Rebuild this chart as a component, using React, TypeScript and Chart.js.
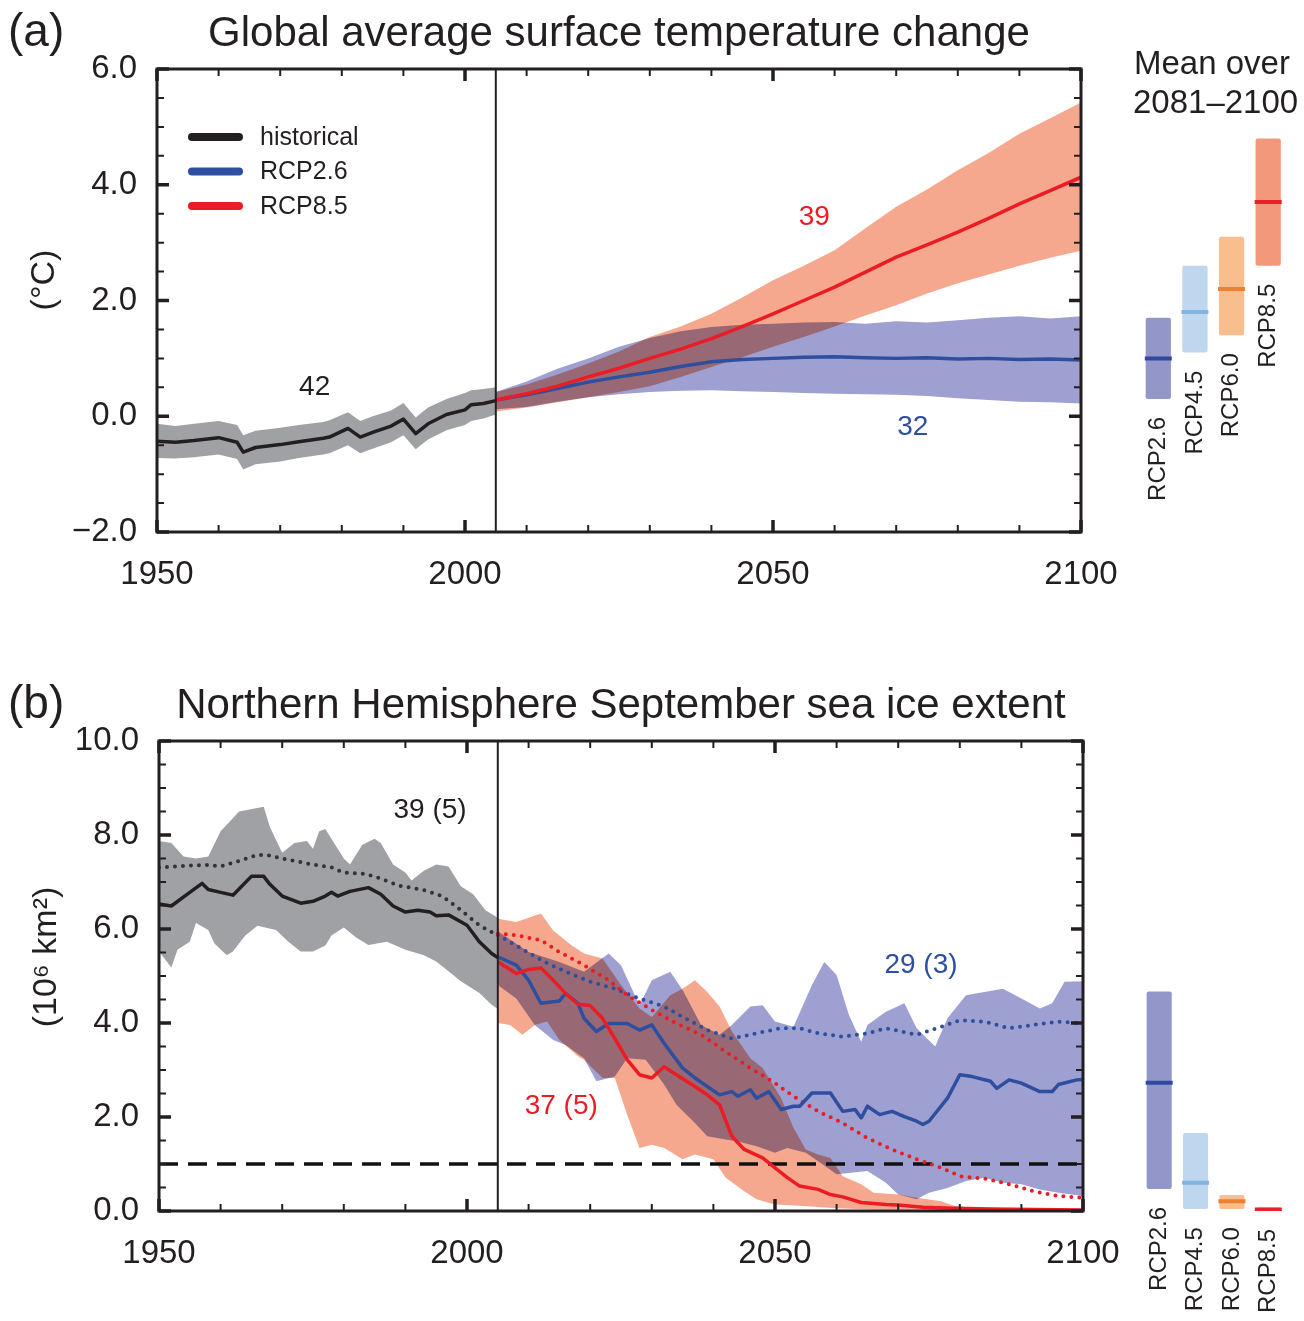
import React, { useEffect, useRef } from "react";
import { Chart, registerables } from "chart.js";

// ---------------- Panel (a): global mean surface temperature change ----------------
const histYearsA = [1950, 1953, 1956, 1960, 1963, 1964, 1966, 1970, 1973, 1977, 1978, 1981, 1983, 1985, 1988, 1990, 1992, 1994, 1997, 2000, 2001, 2003, 2005];
const histMeanA = [-0.43, -0.45, -0.42, -0.37, -0.45, -0.62, -0.54, -0.49, -0.44, -0.38, -0.36, -0.21, -0.36, -0.28, -0.17, -0.05, -0.30, -0.13, 0.03, 0.11, 0.20, 0.22, 0.27];
const histHighA = [-0.13, -0.17, -0.13, -0.08, -0.15, -0.33, -0.25, -0.20, -0.15, -0.10, -0.07, 0.07, -0.08, 0.0, 0.10, 0.23, -0.02, 0.15, 0.30, 0.40, 0.45, 0.47, 0.50];
const histLowA = [-0.72, -0.73, -0.71, -0.66, -0.74, -0.92, -0.83, -0.78, -0.72, -0.66, -0.64, -0.50, -0.64, -0.56, -0.45, -0.33, -0.57, -0.40, -0.24, -0.15, -0.08, -0.04, 0.03];

const projYearsA = [2005, 2010, 2015, 2020, 2025, 2030, 2035, 2040, 2045, 2050, 2055, 2060, 2065, 2070, 2075, 2080, 2085, 2090, 2095, 2100];
const rcp26MeanA = [0.28, 0.37, 0.48, 0.59, 0.68, 0.76, 0.86, 0.94, 0.98, 1.0, 1.02, 1.03, 1.01, 1.0, 1.01, 0.99, 1.0, 0.98, 0.99, 0.97];
const rcp26HighA = [0.42, 0.6, 0.82, 1.0, 1.2, 1.35, 1.47, 1.54, 1.58, 1.6, 1.62, 1.63, 1.6, 1.64, 1.62, 1.66, 1.7, 1.73, 1.69, 1.73];
const rcp26LowA = [0.12, 0.16, 0.25, 0.33, 0.38, 0.42, 0.44, 0.45, 0.43, 0.42, 0.4, 0.39, 0.38, 0.37, 0.35, 0.31, 0.28, 0.25, 0.24, 0.22];
const rcp85MeanA = [0.28, 0.39, 0.52, 0.68, 0.83, 1.0, 1.16, 1.34, 1.55, 1.77, 2.0, 2.23, 2.49, 2.75, 2.96, 3.18, 3.42, 3.67, 3.9, 4.13];
const rcp85HighA = [0.42, 0.55, 0.72, 0.91, 1.12, 1.37, 1.55, 1.77, 2.05, 2.35, 2.6, 2.87, 3.25, 3.62, 3.92, 4.25, 4.55, 4.88, 5.15, 5.42];
const rcp85LowA = [0.08, 0.15, 0.24, 0.33, 0.42, 0.52, 0.68, 0.85, 1.02, 1.2, 1.37, 1.55, 1.74, 1.92, 2.12, 2.3, 2.45, 2.6, 2.74, 2.86];

// ---------------- Panel (b): NH September sea ice extent ----------------
const histYearsB = [1950, 1952, 1955, 1957, 1958, 1960, 1962, 1965, 1967, 1968, 1970, 1973, 1975, 1977, 1978, 1979, 1981, 1984, 1986, 1988, 1990, 1992, 1994, 1995, 1997, 2000, 2002, 2004, 2005];
const histMeanB = [6.53, 6.49, 6.78, 6.97, 6.84, 6.78, 6.72, 7.12, 7.12, 6.95, 6.7, 6.55, 6.59, 6.7, 6.78, 6.7, 6.8, 6.88, 6.74, 6.49, 6.36, 6.4, 6.36, 6.28, 6.3, 6.08, 5.73, 5.48, 5.39];
const histDotYearsB = [1950, 1955, 1958, 1960, 1963, 1966, 1968, 1970, 1975, 1978, 1980, 1983, 1985, 1989, 1993, 1996, 1999, 2002, 2005];
const histDotB = [7.31, 7.35, 7.36, 7.33, 7.45, 7.58, 7.56, 7.5, 7.37, 7.31, 7.2, 7.18, 7.12, 6.92, 6.83, 6.7, 6.4, 6.08, 5.86];
const histHighYearsB = [1950, 1952, 1954, 1956, 1958, 1960, 1963, 1967, 1968, 1970, 1972, 1974, 1975, 1976, 1977, 1980, 1981, 1983, 1985, 1986, 1988, 1990, 1991, 1993, 1995, 1997, 1999, 2001, 2003, 2005];
const histHighB = [7.87, 7.83, 7.54, 7.5, 7.54, 8.08, 8.5, 8.6, 8.17, 7.62, 7.83, 7.87, 7.71, 8.08, 8.13, 7.5, 7.37, 7.79, 7.92, 7.83, 7.37, 7.2, 7.03, 7.24, 7.37, 7.33, 6.91, 6.74, 6.4, 6.24];
const histLowYearsB = [1950, 1952, 1953, 1955, 1956, 1958, 1959, 1961, 1962, 1964, 1966, 1969, 1971, 1973, 1975, 1977, 1978, 1980, 1982, 1984, 1987, 1990, 1993, 1995, 1997, 1999, 2002, 2004, 2005];
const histLowB = [5.52, 5.18, 5.56, 5.73, 6.13, 5.98, 5.69, 5.44, 5.52, 5.86, 6.07, 5.98, 5.73, 5.52, 5.52, 5.65, 5.86, 6.03, 5.82, 5.66, 5.73, 5.56, 5.44, 5.31, 5.1, 4.89, 4.64, 4.39, 4.3];

const rcp85MeanYearsB = [2005, 2007, 2008, 2010, 2012, 2014, 2016, 2018, 2020, 2022, 2024, 2026, 2028, 2030, 2032, 2034, 2037, 2039, 2041, 2043, 2045, 2048, 2050, 2052, 2054, 2057, 2059, 2061, 2064, 2068, 2070, 2074, 2079, 2085, 2092, 2100];
const rcp85MeanB = [5.3, 5.14, 5.05, 5.14, 5.17, 4.91, 4.63, 4.4, 4.37, 4.1, 3.67, 3.22, 2.9, 2.83, 3.07, 2.9, 2.65, 2.47, 2.26, 1.59, 1.31, 1.13, 0.92, 0.71, 0.53, 0.46, 0.35, 0.3, 0.18, 0.14, 0.13, 0.08, 0.06, 0.04, 0.03, 0.02];
const rcp85DotYearsB = [2005, 2008, 2012, 2015, 2019, 2023, 2026, 2030, 2034, 2038, 2042, 2046, 2050, 2053, 2057, 2061, 2065, 2069, 2073, 2077, 2080, 2084, 2088, 2092, 2096, 2100];
const rcp85DotB = [5.9, 5.87, 5.76, 5.51, 5.23, 4.91, 4.59, 4.28, 3.99, 3.75, 3.39, 3.04, 2.72, 2.44, 2.12, 1.87, 1.55, 1.31, 1.1, 0.92, 0.74, 0.69, 0.57, 0.42, 0.32, 0.28];
const rcp85HighYearsB = [2005, 2008, 2012, 2014, 2017, 2019, 2022, 2025, 2028, 2030, 2033, 2035, 2037, 2039, 2041, 2043, 2046, 2048, 2051, 2053, 2055, 2057, 2059, 2061, 2064, 2066, 2070, 2073, 2077, 2079, 2083, 2092, 2100];
const rcp85HighB = [6.22, 6.15, 6.33, 5.97, 5.65, 5.48, 5.37, 4.81, 4.31, 4.13, 4.59, 4.73, 4.91, 4.66, 4.35, 3.82, 3.25, 3.04, 2.4, 1.77, 1.31, 1.2, 1.13, 0.74, 0.57, 0.39, 0.35, 0.28, 0.21, 0.11, 0.06, 0.03, 0.01];
const rcp85LowYearsB = [2005, 2007, 2009, 2011, 2013, 2015, 2018, 2019, 2022, 2024, 2026, 2028, 2030, 2032, 2035, 2037, 2040, 2042, 2045, 2047, 2050, 2054, 2060, 2066, 2100];
const rcp85LowB = [4.0, 3.96, 3.75, 3.96, 4.03, 3.64, 3.29, 3.22, 2.83, 2.83, 2.05, 1.34, 1.41, 1.34, 1.1, 1.2, 1.1, 0.71, 0.42, 0.25, 0.14, 0.11, 0.06, 0.03, 0.0];

const rcp26MeanYearsB = [2005, 2008, 2010, 2012, 2015, 2016, 2018, 2019, 2021, 2023, 2026, 2028, 2030, 2032, 2035, 2037, 2041, 2043, 2044, 2046, 2047, 2049, 2051, 2053, 2054, 2056, 2059, 2061, 2063, 2064, 2065, 2067, 2069, 2071, 2073, 2074, 2075, 2078, 2080, 2082, 2085, 2086, 2088, 2090, 2093, 2095, 2096, 2099, 2100];
const rcp26MeanB = [5.41, 5.23, 4.91, 4.42, 4.47, 4.63, 4.42, 4.1, 3.82, 3.99, 3.99, 3.85, 3.96, 3.57, 3.04, 2.83, 2.47, 2.54, 2.44, 2.58, 2.4, 2.54, 2.16, 2.23, 2.23, 2.51, 2.51, 2.12, 2.16, 1.98, 2.23, 2.05, 2.12, 2.01, 1.91, 1.84, 1.91, 2.4, 2.9, 2.86, 2.76, 2.61, 2.79, 2.72, 2.54, 2.54, 2.69, 2.79, 2.8];
const rcp26DotYearsB = [2005, 2008, 2012, 2016, 2020, 2024, 2028, 2032, 2035, 2039, 2043, 2047, 2051, 2054, 2057, 2061, 2065, 2068, 2073, 2077, 2080, 2084, 2088, 2092, 2096, 2100];
const rcp26DotB = [5.87, 5.65, 5.34, 5.09, 4.88, 4.73, 4.52, 4.35, 4.13, 3.85, 3.67, 3.78, 3.89, 3.89, 3.78, 3.71, 3.78, 3.89, 3.75, 3.92, 4.06, 4.03, 3.89, 3.96, 4.03, 3.99];
const rcp26HighYearsB = [2005, 2010, 2015, 2019, 2023, 2025, 2028, 2030, 2033, 2035, 2038, 2041, 2043, 2046, 2048, 2050, 2053, 2056, 2058, 2060, 2062, 2064, 2065, 2068, 2071, 2073, 2076, 2078, 2081, 2084, 2087, 2090, 2093, 2095, 2097, 2100];
const rcp26HighB = [5.95, 5.51, 5.3, 5.09, 5.48, 5.23, 4.38, 4.91, 5.09, 4.7, 3.96, 3.75, 3.96, 4.35, 4.38, 4.03, 3.92, 4.81, 5.3, 5.02, 4.17, 3.6, 3.96, 4.24, 4.42, 3.89, 3.5, 4.1, 4.59, 4.66, 4.73, 4.52, 4.31, 4.42, 4.88, 4.89];
const rcp26LowYearsB = [2005, 2008, 2011, 2014, 2016, 2019, 2021, 2024, 2026, 2029, 2032, 2034, 2037, 2039, 2042, 2044, 2047, 2050, 2052, 2055, 2057, 2060, 2062, 2065, 2068, 2070, 2073, 2075, 2078, 2081, 2084, 2087, 2090, 2093, 2096, 2100];
const rcp26LowB = [4.81, 4.52, 3.96, 3.64, 3.53, 3.25, 2.76, 2.86, 3.25, 3.22, 2.69, 2.26, 1.87, 1.59, 1.52, 1.48, 1.38, 1.24, 1.34, 1.24, 1.06, 0.78, 0.81, 0.85, 0.6, 0.35, 0.25, 0.39, 0.49, 0.64, 0.71, 0.6, 0.57, 0.46, 0.39, 0.32];

const thresholdYears = [1950, 2100];
const thresholdB = [1.0, 1.0];

// ---------------- Side panels: mean over 2081–2100 ----------------
const scenarios = ["RCP2.6", "RCP4.5", "RCP6.0", "RCP8.5"];
const endMeanA = [1.0, 1.8, 2.2, 3.7];
const endLowA = [0.3, 1.1, 1.4, 2.6];
const endHighA = [1.7, 2.6, 3.1, 4.8];
const endMeanB = [2.73, 0.6, 0.21, 0.03];
const endLowB = [0.47, 0.04, 0.04, 0.0];
const endHighB = [4.67, 1.66, 0.34, 0.07];

const legendLabelsA = ["historical", "RCP2.6", "RCP8.5"];

// ---------------- Styles ----------------
const FONT = "'Liberation Sans', Arial, Helvetica, sans-serif";
const INK = "#231f20";
const RED = "#ec1c24";
const BLUE = "#2e4e9f";
const GREY_BAND = "rgb(160,161,165)";
const ORANGE_BAND = "rgb(246,168,142)";
const BLUE_BAND = "rgb(158,160,210)";
const SIDE_FILL = ["rgb(146,150,201)", "rgb(190,214,238)", "rgb(249,189,142)", "rgb(244,152,124)"];
const SIDE_FILL_B = ["rgb(146,150,201)", "rgb(190,214,238)", "rgb(249,189,142)", "rgb(240,60,60)"];
const SIDE_MARK = ["#2e4a9e", "#82b5e2", "#f07f2f", "#e8202a"];

// multiply-blend the uncertainty bands (registered first so it runs before the filler)
const multiplyBands: any = {
  id: "multiplyBands",
  beforeDatasetDraw(chart: any, args: any) {
    const ds = chart.data.datasets[args.index];
    if (ds && ds.multiply) {
      chart.ctx.save();
      chart.ctx.globalCompositeOperation = "multiply";
    }
  },
  afterDatasetDraw(chart: any, args: any) {
    const ds = chart.data.datasets[args.index];
    if (ds && ds.multiply) chart.ctx.restore();
  },
};
Chart.register(multiplyBands);
Chart.register(...registerables);

const pts = (xs: number[], ys: number[]) => xs.map((x, i) => ({ x, y: ys[i] }));
const band = (xh: number[], hi: number[], xl: number[], lo: number[]) => [...pts(xh, hi), ...pts(xl, lo).reverse()];

function bandDs(data: any[], color: string, order: number) {
  return { type: "line", data, fill: "shape", backgroundColor: color, borderWidth: 0, pointRadius: 0, tension: 0, multiply: true, order };
}
function lineDs(data: any[], color: string, order: number, dash?: number[], width = 3.5) {
  return {
    type: "line", data, fill: false, borderColor: color, borderWidth: width, pointRadius: 0, tension: 0, order,
    borderDash: dash || [], borderCapStyle: dash && dash[0] === 0 ? "round" : "butt", borderJoinStyle: "round",
  };
}

const fmtY = (v: any) => (v < 0 ? "\u2212" + Math.abs(v).toFixed(1) : Number(v).toFixed(1));

function framePlugin(vline: number, yMinor: number, yMajor: number) {
  return {
    id: "frame",
    afterDatasetsDraw(chart: any) {
      const { ctx, chartArea: a, scales } = chart;
      const x = scales.x, y = scales.y;
      ctx.save();
      ctx.strokeStyle = INK;
      ctx.lineCap = "butt";
      const vx = x.getPixelForValue(vline);
      ctx.lineWidth = 2;
      ctx.beginPath(); ctx.moveTo(vx, a.top); ctx.lineTo(vx, a.bottom); ctx.stroke();
      for (let v = 1950; v <= 2100; v += 10) {
        const major = v % 50 === 0;
        const px = x.getPixelForValue(v);
        const len = major ? 12 : 7;
        ctx.lineWidth = major ? 3.5 : 2;
        ctx.beginPath();
        ctx.moveTo(px, a.top); ctx.lineTo(px, a.top + len);
        ctx.moveTo(px, a.bottom); ctx.lineTo(px, a.bottom - len);
        ctx.stroke();
      }
      for (let v = y.min; v <= y.max + 1e-9; v += yMinor) {
        const major = Math.abs(Math.round(v / yMajor) * yMajor - v) < 1e-6;
        const py = y.getPixelForValue(v);
        const len = major ? 12 : 7;
        ctx.lineWidth = major ? 3.5 : 2;
        ctx.beginPath();
        ctx.moveTo(a.left, py); ctx.lineTo(a.left + len, py);
        ctx.moveTo(a.right, py); ctx.lineTo(a.right - len, py);
        ctx.stroke();
      }
      ctx.lineWidth = 3;
      ctx.strokeRect(a.left, a.top, a.right - a.left, a.bottom - a.top);
      ctx.restore();
    },
  };
}

function mainOptions(p: { yMin: number; yMax: number; yWidth: number; xHeight: number; padTop: number; padRight: number }) {
  return {
    responsive: false,
    animation: false,
    devicePixelRatio: 1,
    events: [],
    layout: { padding: { top: p.padTop, right: p.padRight, left: 0, bottom: 0 } },
    plugins: { legend: { display: false }, tooltip: { enabled: false }, title: { display: false } },
    scales: {
      x: {
        type: "linear", min: 1950, max: 2100,
        grid: { display: false, drawTicks: false }, border: { display: false },
        ticks: { stepSize: 50, autoSkip: false, maxRotation: 0, padding: 23, color: INK, font: { family: FONT, size: 33 }, callback: (v: any) => String(v) },
        afterFit: (s: any) => { s.height = p.xHeight; s.paddingLeft = 0; s.paddingRight = 0; },
      },
      y: {
        type: "linear", min: p.yMin, max: p.yMax,
        grid: { display: false, drawTicks: false }, border: { display: false },
        ticks: { stepSize: 2, autoSkip: false, padding: 20, color: INK, font: { family: FONT, size: 33 }, callback: fmtY },
        afterFit: (s: any) => { s.width = p.yWidth; s.paddingTop = 0; s.paddingBottom = 0; },
      },
    },
  };
}

const notesA = [
  { text: "42", x: 1975.6, y: 0.5, color: INK },
  { text: "39", x: 2056.7, y: 3.44, color: RED },
  { text: "32", x: 2072.7, y: -0.19, color: BLUE },
];
const notesB = [
  { text: "39 (5)", x: 1994.0, y: 8.53, color: INK },
  { text: "29 (3)", x: 2073.7, y: 5.23, color: BLUE },
  { text: "37 (5)", x: 2015.3, y: 2.23, color: RED },
];

function textPlugin(opt: { letter: string; title: string; base: number; yTitle: string; yTitleX: number; yTitleY: number; notes: any[]; legend: boolean }) {
  return {
    id: "texts",
    afterDraw(chart: any) {
      const { ctx, chartArea: a, scales } = chart;
      const x = scales.x, y = scales.y;
      ctx.save();
      ctx.fillStyle = INK;
      ctx.textBaseline = "alphabetic";
      ctx.textAlign = "left";
      ctx.font = `46px ${FONT}`;
      ctx.fillText(opt.letter, 8, opt.base);
      ctx.textAlign = "center";
      ctx.font = `42px ${FONT}`;
      ctx.fillText(opt.title, (a.left + a.right) / 2, opt.base);
      ctx.save();
      ctx.translate(opt.yTitleX, opt.yTitleY);
      ctx.rotate(-Math.PI / 2);
      ctx.font = `34px ${FONT}`;
      ctx.textBaseline = "middle";
      ctx.fillText(opt.yTitle, 0, 0);
      ctx.restore();
      if (opt.legend) {
        const cols = [INK, BLUE, RED];
        legendLabelsA.forEach((lab, i) => {
          const ly = a.top + 68 + i * 34.5;
          ctx.strokeStyle = cols[i];
          ctx.lineWidth = 8;
          ctx.lineCap = "round";
          ctx.beginPath(); ctx.moveTo(a.left + 35, ly); ctx.lineTo(a.left + 82, ly); ctx.stroke();
          ctx.fillStyle = INK;
          ctx.font = `25px ${FONT}`;
          ctx.textAlign = "left";
          ctx.textBaseline = "middle";
          ctx.fillText(lab, a.left + 103, ly + 1);
        });
      }
      ctx.textAlign = "center";
      ctx.textBaseline = "middle";
      ctx.font = `28px ${FONT}`;
      for (const n of opt.notes) {
        ctx.fillStyle = n.color;
        ctx.fillText(n.text, x.getPixelForValue(n.x), y.getPixelForValue(n.y));
      }
      ctx.restore();
    },
  };
}

function sidePlugin(low: number[], header: boolean) {
  return {
    id: "sideText",
    afterDraw(chart: any) {
      const { ctx, scales } = chart;
      const y = scales.y;
      const meta = chart.getDatasetMeta(1);
      ctx.save();
      ctx.fillStyle = INK;
      if (header) {
        ctx.font = `33px ${FONT}`;
        ctx.textAlign = "left";
        ctx.textBaseline = "alphabetic";
        ctx.fillText("Mean over", 24, 74);
        ctx.fillText("2081\u20132100", 23, 113);
      }
      ctx.font = `24px ${FONT}`;
      meta.data.forEach((el: any, i: number) => {
        const bx = el.x;
        const by = y.getPixelForValue(low[i]) + 18;
        ctx.save();
        ctx.translate(bx, by);
        ctx.rotate(-Math.PI / 2);
        ctx.textAlign = "right";
        ctx.textBaseline = "middle";
        ctx.fillText(scenarios[i], 0, 0);
        ctx.restore();
      });
      ctx.restore();
    },
  };
}

function sideConfig(low: number[], high: number[], mean: number[], fills: string[], yMin: number, yMax: number, pad: any, header: boolean) {
  return {
    type: "bar",
    data: {
      labels: scenarios,
      datasets: [
        { type: "line", data: mean, showLine: false, pointStyle: "line", pointRadius: 13.5, pointBorderWidth: 4, pointBorderColor: SIDE_MARK, pointBackgroundColor: SIDE_MARK, order: 0 },
        { type: "bar", data: low.map((l, i) => [l, high[i]]), backgroundColor: fills, borderWidth: 0, categoryPercentage: 1, barPercentage: 0.69, borderRadius: 2, borderSkipped: false, order: 1 },
      ],
    },
    options: {
      responsive: false,
      animation: false,
      devicePixelRatio: 1,
      events: [],
      layout: { padding: pad },
      plugins: { legend: { display: false }, tooltip: { enabled: false } },
      scales: {
        x: { display: false, offset: true },
        y: { display: false, min: yMin, max: yMax },
      },
    },
    plugins: [sidePlugin(low, header)],
  };
}

function configA(): any {
  return {
    type: "line",
    data: {
      datasets: [
        bandDs(band(histYearsA, histHighA, histYearsA, histLowA), GREY_BAND, 12),
        bandDs(band(projYearsA, rcp85HighA, projYearsA, rcp85LowA), ORANGE_BAND, 11),
        bandDs(band(projYearsA, rcp26HighA, projYearsA, rcp26LowA), BLUE_BAND, 10),
        lineDs(pts(histYearsA, histMeanA), INK, 3),
        lineDs(pts(projYearsA, rcp26MeanA), BLUE, 2),
        lineDs(pts(projYearsA, rcp85MeanA), RED, 1),
      ],
    },
    options: mainOptions({ yMin: -2, yMax: 6, yWidth: 157, xHeight: 68, padTop: 69, padRight: 39 }),
    plugins: [
      framePlugin(2005, 0.5, 2),
      textPlugin({ letter: "(a)", title: "Global average surface temperature change", base: 46, yTitle: "(\u00B0C)", yTitleX: 45, yTitleY: 280, notes: notesA, legend: true }),
    ],
  };
}

function configB(): any {
  return {
    type: "line",
    data: {
      datasets: [
        bandDs(band(histHighYearsB, histHighB, histLowYearsB, histLowB), GREY_BAND, 12),
        bandDs(band(rcp85HighYearsB, rcp85HighB, rcp85LowYearsB, rcp85LowB), ORANGE_BAND, 11),
        bandDs(band(rcp26HighYearsB, rcp26HighB, rcp26LowYearsB, rcp26LowB), BLUE_BAND, 10),
        lineDs(pts(thresholdYears, thresholdB), "#111", 8, [19, 10], 3.5),
        lineDs(pts(histDotYearsB, histDotB), "#333", 7, [0, 8], 4),
        lineDs(pts(rcp26DotYearsB, rcp26DotB), BLUE, 6, [0, 8], 4),
        lineDs(pts(rcp85DotYearsB, rcp85DotB), RED, 5, [0, 8], 4),
        lineDs(pts(histYearsB, histMeanB), INK, 3),
        lineDs(pts(rcp26MeanYearsB, rcp26MeanB), BLUE, 2),
        lineDs(pts(rcp85MeanYearsB, rcp85MeanB), RED, 1),
      ],
    },
    options: mainOptions({ yMin: 0, yMax: 10, yWidth: 159, xHeight: 110, padTop: 81, padRight: 37 }),
    plugins: [
      framePlugin(2005, 0.5, 2),
      textPlugin({ letter: "(b)", title: "Northern Hemisphere September sea ice extent", base: 58, yTitle: "(10\u2076 km\u00B2)", yTitleX: 47, yTitleY: 297, notes: notesB, legend: false }),
    ],
  };
}

export default function App() {
  const aMain = useRef<HTMLCanvasElement>(null);
  const aSide = useRef<HTMLCanvasElement>(null);
  const bMain = useRef<HTMLCanvasElement>(null);
  const bSide = useRef<HTMLCanvasElement>(null);

  useEffect(() => {
    const charts: Chart[] = [
      new Chart(aMain.current as HTMLCanvasElement, configA()),
      new Chart(aSide.current as HTMLCanvasElement, sideConfig(endLowA, endHighA, endMeanA, SIDE_FILL, -2, 6, { top: 69, bottom: 68, left: 30, right: 7 }, true) as any),
      new Chart(bMain.current as HTMLCanvasElement, configB()),
      new Chart(bSide.current as HTMLCanvasElement, sideConfig(endLowB, endHighB, endMeanB, SIDE_FILL_B, 0, 10, { top: 81, bottom: 110, left: 31, right: 6 }, false) as any),
    ];
    return () => charts.forEach((c) => c.destroy());
  }, []);

  const abs = (left: number, top: number): React.CSSProperties => ({ position: "absolute", left, top });
  return (
    <div style={{ position: "absolute", left: 0, top: 0, width: 1304, height: 1321, background: "#fff", overflow: "hidden" }}>
      <canvas ref={aMain} width={1120} height={600} style={abs(0, 0)} />
      <canvas ref={aSide} width={194} height={600} style={abs(1110, 0)} />
      <canvas ref={bMain} width={1120} height={661} style={abs(0, 660)} />
      <canvas ref={bSide} width={194} height={661} style={abs(1110, 660)} />
    </div>
  );
}
